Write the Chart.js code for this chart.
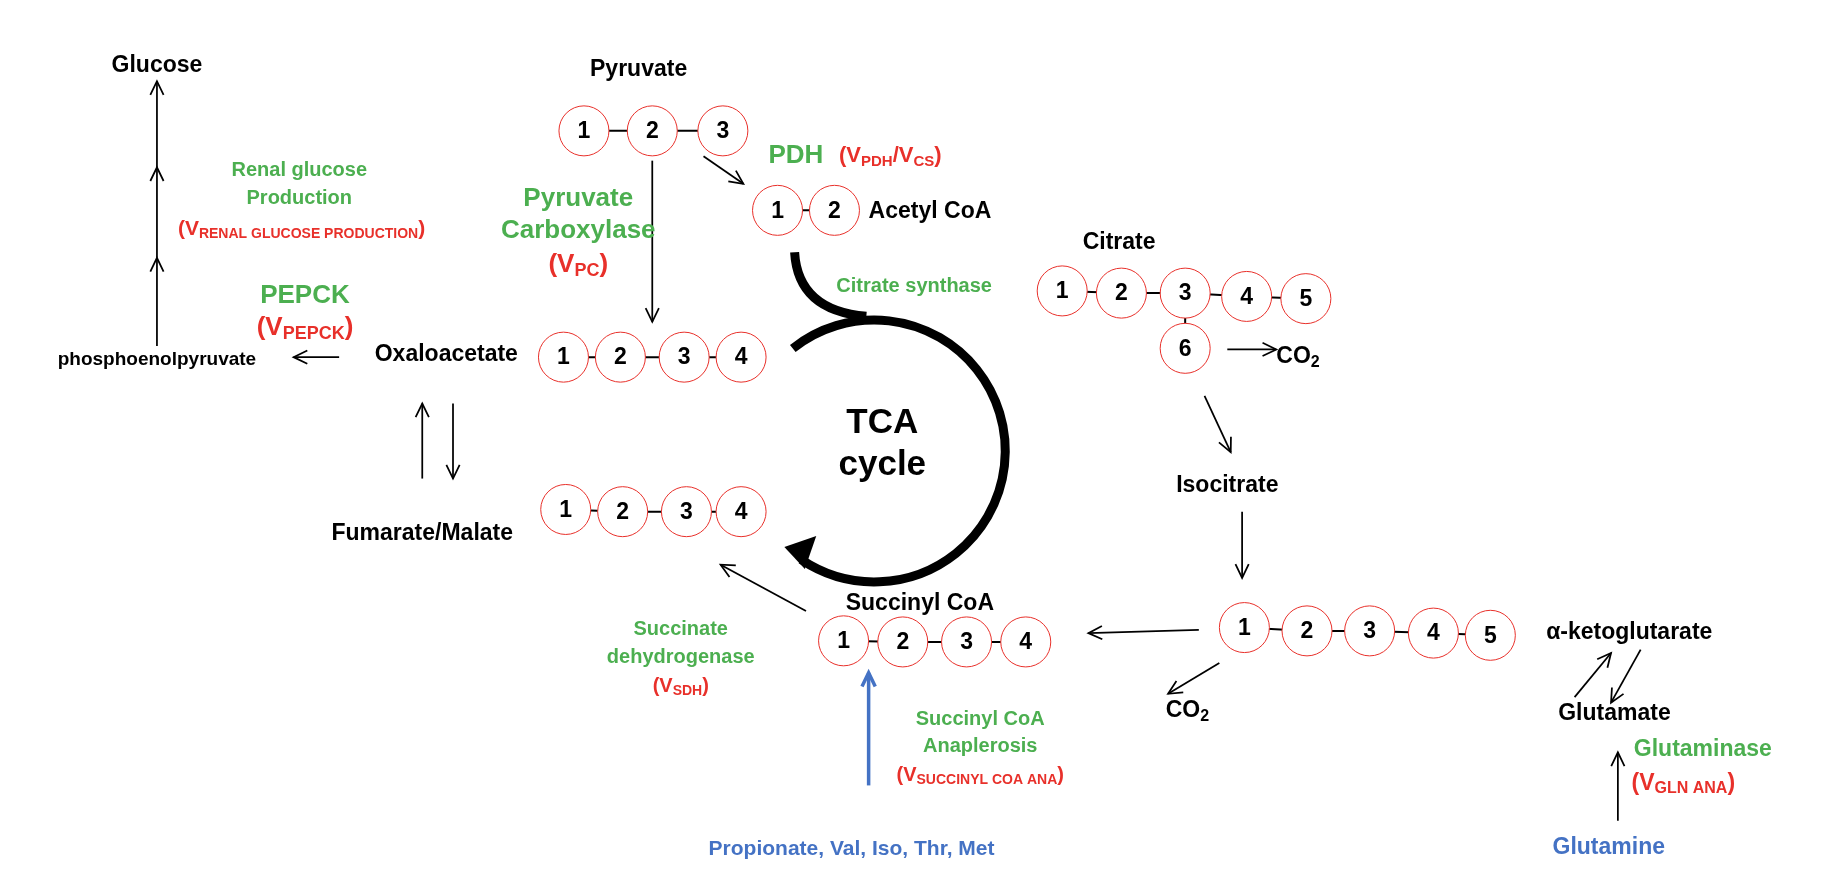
<!DOCTYPE html>
<html>
<head>
<meta charset="utf-8">
<script src="https://cdn.jsdelivr.net/npm/chart.js@4"></script>
<style>
  html, body { margin: 0; padding: 0; background: #fff; }
  #wrap { width: 1842px; height: 892px; }
</style>
</head>
<body>
<div id="wrap"><canvas id="tca"></canvas></div>
<script>
// carbon atoms: [x, y, label] in diagram units (0..1572 x 0..761)
const pyruvateAtoms = [[490, 95, '1'], [550, 95, '2'], [612, 95, '3']];
const acetylAtoms = [[660, 167, '1'], [710, 167, '2']];
const oaaAtoms = [[472, 300, '1'], [522, 300, '2'], [578, 300, '3'], [628, 300, '4']];
const fumAtoms = [[474, 438, '1'], [524, 440, '2'], [580, 440, '3'], [628, 440, '4']];
const citrateAtoms = [[910, 240, '1'], [962, 242, '2'], [1018, 242, '3'], [1072, 245, '4'], [1124, 247, '5']];
const citrateBranch = [[1018, 292, '6']];
const akgAtoms = [[1070, 545, '1'], [1125, 548, '2'], [1180, 548, '3'], [1236, 550, '4'], [1286, 552, '5']];
const succAtoms = [[718, 557, '1'], [770, 558, '2'], [826, 558, '3'], [878, 558, '4']];

// labels: [x, y, segments, colour, size, align]  segments: [text, isSub]
const BLACK = '#000', GREEN = '#4caf50', RED = '#e8302a', BLUE = '#4472c4';
const labels = [
  [115, 36, [['Glucose']], BLACK, 20, 'center'],
  [538, 40, [['Pyruvate']], BLACK, 20, 'center'],
  [740, 168, [['Acetyl CoA']], BLACK, 20, 'left'],
  [960, 196, [['Citrate']], BLACK, 20, 'center'],
  [432, 298, [['Oxaloacetate']], BLACK, 20, 'right'],
  [115, 302, [['phosphoenolpyruvate']], BLACK, 16, 'center'],
  [348, 460, [['Fumarate/Malate']], BLACK, 20, 'center'],
  [1055, 416, [['Isocitrate']], BLACK, 20, 'center'],
  [785, 523, [['Succinyl CoA']], BLACK, 20, 'center'],
  [1335, 550, [['α-ketoglutarate']], BLACK, 20, 'left'],
  [1395, 623, [['Glutamate']], BLACK, 20, 'center'],
  [1098, 300, [['CO'], ['2', true]], BLACK, 20, 'left'],
  [1020, 620, [['CO'], ['2', true]], BLACK, 20, 'center'],
  [240, 131, [['Renal glucose']], GREEN, 17, 'center'],
  [240, 156, [['Production']], GREEN, 17, 'center'],
  [242, 184, [['(V'], ['RENAL GLUCOSE PRODUCTION', true], [')']], RED, 18, 'center'],
  [245, 244, [['PEPCK']], GREEN, 22, 'center'],
  [245, 273, [['(V'], ['PEPCK', true], [')']], RED, 22, 'center'],
  [485, 157, [['Pyruvate']], GREEN, 22, 'center'],
  [485, 186, [['Carboxylase']], GREEN, 22, 'center'],
  [485, 216, [['(V'], ['PC', true], [')']], RED, 22, 'center'],
  [652, 118, [['PDH']], GREEN, 22, 'left'],
  [714, 118, [['(V'], ['PDH', true], ['/V'], ['CS', true], [')']], RED, 19, 'left'],
  [780, 236, [['Citrate synthase']], GREEN, 17, 'center'],
  [752, 360, [['TCA']], BLACK, 30, 'center'],
  [752, 398, [['cycle']], BLACK, 30, 'center'],
  [575, 547, [['Succinate']], GREEN, 17, 'center'],
  [575, 572, [['dehydrogenase']], GREEN, 17, 'center'],
  [575, 598, [['(V'], ['SDH', true], [')']], RED, 17, 'center'],
  [838, 628, [['Succinyl CoA']], GREEN, 17, 'center'],
  [838, 653, [['Anaplerosis']], GREEN, 17, 'center'],
  [838, 679, [['(V'], ['SUCCINYL COA ANA', true], [')']], RED, 17, 'center'],
  [725, 746, [['Propionate, Val, Iso, Thr, Met']], BLUE, 18, 'center'],
  [1412, 656, [['Glutaminase']], GREEN, 20, 'left'],
  [1410, 686, [['(V'], ['GLN ANA', true], [')']], RED, 20, 'left'],
  [1390, 744, [['Glutamine']], BLUE, 20, 'center']
];

// thin arrows: [x1, y1, x2, y2, colour, width]
const arrows = [
  [115, 290, 115, 210, BLACK, 1.5], [115, 210, 115, 128, BLACK, 1.5], [115, 128, 115, 50, BLACK, 1.5],
  [550, 122, 550, 268, BLACK, 1.5],
  [595, 118, 630, 143, BLACK, 1.5],
  [275, 300, 235, 300, BLACK, 1.5],
  [348, 410, 348, 342, BLACK, 1.5], [375, 342, 375, 410, BLACK, 1.5],
  [1055, 293, 1098, 293, BLACK, 1.5],
  [1035, 335, 1058, 386, BLACK, 1.5],
  [1068, 440, 1068, 500, BLACK, 1.5],
  [1030, 547, 933, 550, BLACK, 1.5],
  [1048, 577, 1003, 605, BLACK, 1.5],
  [685, 530, 610, 488, BLACK, 1.5],
  [740, 688, 740, 586, BLUE, 3],
  [1360, 608, 1392, 568, BLACK, 1.5], [1418, 565, 1392, 613, BLACK, 1.5],
  [1398, 720, 1398, 658, BLACK, 1.5]
];

const K = 1842 / 1572; // pixels per diagram unit
const chains = [pyruvateAtoms, acetylAtoms, oaaAtoms, fumAtoms, citrateAtoms, akgAtoms, succAtoms];
const allAtoms = chains.flat().concat(citrateBranch);

const datasets = [];
chains.forEach(c => datasets.push({
  type: 'line', data: c.map(a => ({ x: a[0], y: a[1] })),
  borderColor: '#000', borderWidth: 2, pointRadius: 0, order: 2
}));
datasets.push({
  type: 'line', data: [{ x: 1018, y: 242 }, { x: 1018, y: 292 }],
  borderColor: '#000', borderWidth: 2, pointRadius: 0, order: 2
});
datasets.push({
  type: 'scatter', data: allAtoms.map(a => ({ x: a[0], y: a[1], t: a[2] })),
  pointRadius: 25, pointHoverRadius: 25, backgroundColor: '#fff',
  borderColor: '#e8302a', borderWidth: 1, order: 1
});

const FONT = '"Liberation Sans", Arial, sans-serif';

function drawArrow(ctx, x1, y1, x2, y2, col, w) {
  ctx.save();
  ctx.strokeStyle = col; ctx.lineWidth = w * K;
  ctx.beginPath(); ctx.moveTo(x1, y1); ctx.lineTo(x2, y2); ctx.stroke();
  const a = Math.atan2(y2 - y1, x2 - x1), h = 13 * K;
  ctx.beginPath();
  ctx.moveTo(x2 - h * Math.cos(a - 0.45), y2 - h * Math.sin(a - 0.45));
  ctx.lineTo(x2, y2);
  ctx.lineTo(x2 - h * Math.cos(a + 0.45), y2 - h * Math.sin(a + 0.45));
  ctx.stroke();
  ctx.restore();
}

function drawLabel(ctx, x, y, segs, col, size, align) {
  size = size * K;
  ctx.save();
  ctx.fillStyle = col; ctx.textBaseline = 'middle'; ctx.textAlign = 'left';
  const fnt = s => `bold ${Math.round(s ? size * 0.68 : size)}px ${FONT}`;
  let total = 0;
  segs.forEach(s => { ctx.font = fnt(s[1]); total += ctx.measureText(s[0]).width; });
  let cx = align === 'center' ? x - total / 2 : align === 'right' ? x - total : x;
  segs.forEach(s => {
    ctx.font = fnt(s[1]);
    ctx.fillText(s[0], cx, s[1] ? y + size * 0.25 : y);
    cx += ctx.measureText(s[0]).width;
  });
  ctx.restore();
}

const diagram = {
  id: 'diagram',
  afterDatasetsDraw(chart) {
    const ctx = chart.ctx, sx = chart.scales.x, sy = chart.scales.y;
    const X = v => sx.getPixelForValue(v), Y = v => sy.getPixelForValue(v);
    // atom numbers
    ctx.save();
    ctx.fillStyle = '#000'; ctx.font = `bold 23px ${FONT}`;
    ctx.textAlign = 'center'; ctx.textBaseline = 'middle';
    allAtoms.forEach(a => ctx.fillText(a[2], X(a[0]), Y(a[1]) + 1));
    ctx.restore();
    // TCA cycle arc
    ctx.save();
    ctx.strokeStyle = '#000'; ctx.lineWidth = 9; ctx.lineCap = 'butt';
    ctx.beginPath();
    ctx.moveTo(X(675), Y(205));
    ctx.quadraticCurveTo(X(678), Y(258), X(738), Y(263));
    ctx.stroke();
    const cx = X(745), cy = Y(385), r = X(860) - X(745);
    ctx.beginPath();
    ctx.arc(cx, cy, r, Math.atan2(-88, -70), Math.atan2(92, -62));
    ctx.stroke();
    ctx.fillStyle = '#000';
    ctx.beginPath();
    ctx.moveTo(X(666), Y(472));
    ctx.lineTo(X(694), Y(462));
    ctx.lineTo(X(684), Y(492));
    ctx.closePath(); ctx.fill();
    ctx.restore();
    arrows.forEach(a => drawArrow(ctx, X(a[0]), Y(a[1]), X(a[2]), Y(a[3]), a[4], a[5]));
    labels.forEach(l => drawLabel(ctx, X(l[0]), Y(l[1]), l[2], l[3], l[4], l[5]));
  }
};

new Chart(document.getElementById('tca'), {
  type: 'scatter',
  data: { datasets },
  options: {
    responsive: true, maintainAspectRatio: false, animation: false,
    layout: { padding: 0 },
    plugins: { legend: { display: false }, tooltip: { enabled: false } },
    scales: {
      x: { type: 'linear', min: 0, max: 1572, display: false },
      y: { type: 'linear', min: 0, max: 761, reverse: true, display: false }
    }
  },
  plugins: [diagram]
});
</script>
</body>
</html>
